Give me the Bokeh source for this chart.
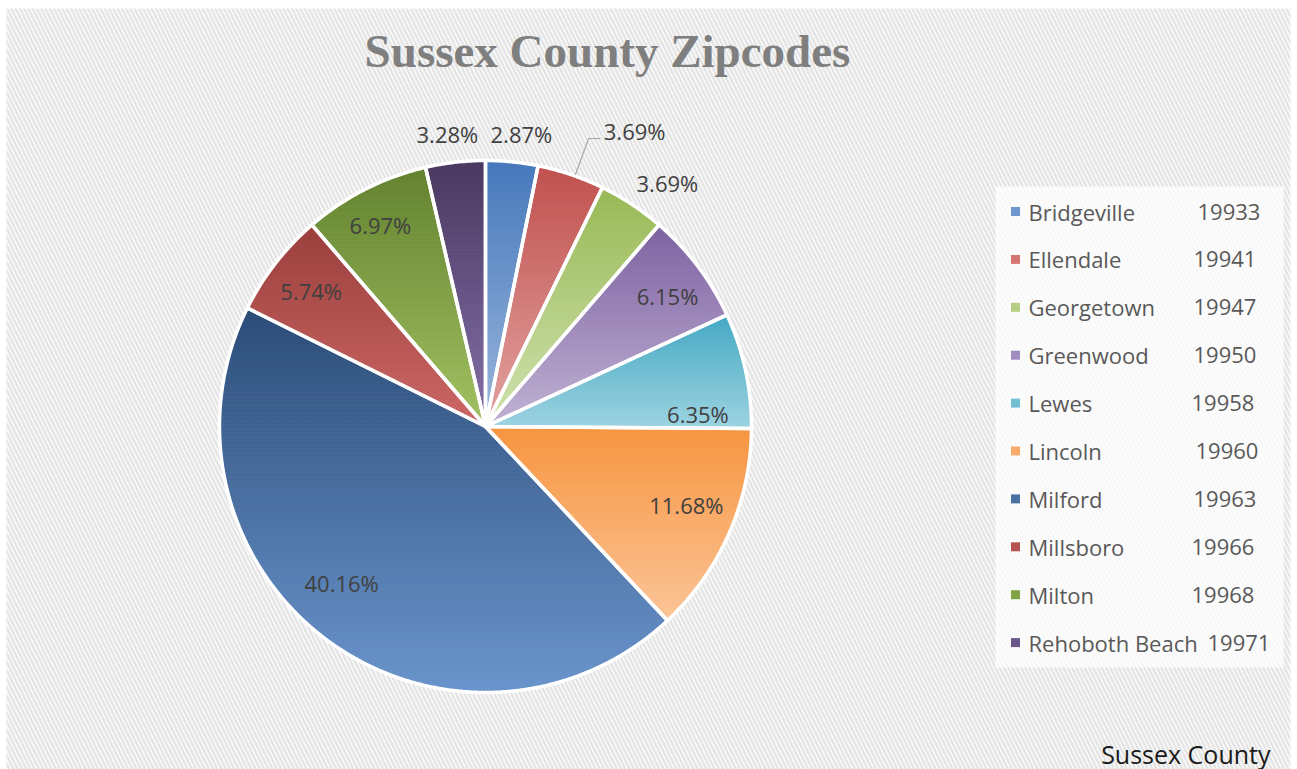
import numpy as np
from bokeh.plotting import figure
from bokeh.models import Range1d
from bokeh.core.properties import value
from bokeh.embed import file_html
from bokeh.resources import INLINE

# ---------------- data ----------------
towns = ["Bridgeville", "Ellendale", "Georgetown", "Greenwood", "Lewes",
         "Lincoln", "Milford", "Millsboro", "Milton", "Rehoboth Beach"]
zipcodes = ["19933", "19941", "19947", "19950", "19958",
            "19960", "19963", "19966", "19968", "19971"]
shares = [2.87, 3.69, 3.69, 6.15, 6.35, 11.68, 40.16, 5.74, 6.97, 3.28]
title_text = "Sussex County Zipcodes"
series_name = "Sussex County"

# ---------------- style ----------------
top_colors = ["#4678bb", "#c0504d", "#98b955", "#7e62a1", "#44a8c3",
              "#f79440", "#2c4c78", "#9b3f3c", "#62822f", "#4a3860"]
bottom_colors = ["#9bb7dd", "#e3a4a2", "#d0e2b0", "#c0b2d4", "#9dd3e1",
                 "#fbc597", "#6a95cc", "#cc6866", "#a3c263", "#8571a9"]
legend_colors = ["#6e97cf", "#d57673", "#b5cf82", "#a08cbf", "#72bfd3",
                 "#f9ab6a", "#4a6fa3", "#b65350", "#82a246", "#6a5688"]
label_rf = [1.106, 1.246, 1.144, 0.843, 0.80, 0.81, 0.80, 0.83, 0.856, 1.11]
label_dang = [1.3, 8.0, 3.3, 1.3, 8.7, -2.4, 5.9, 0.0, -0.6, -0.9]
zip_x = [1197, 1193, 1193, 1193, 1191, 1195, 1193, 1191, 1191, 1207]

W, H = 1292, 769
cx, cy, R = 485, 426, 266

p = figure(width=W, height=H, x_range=Range1d(0, W),
           y_range=Range1d(H, 0), output_backend="svg",
           toolbar_location=None, x_axis_type=None, y_axis_type=None,
           min_border=0)
p.outline_line_color = None
p.background_fill_color = "white"
p.border_fill_color = "white"

# hatched chart area
p.quad(left=[6], right=[1290], top=[8], bottom=[H],
       fill_color="white", line_color=None, hatch_pattern="\\",
       hatch_color="#dcdcdc", hatch_scale=8.5, hatch_weight=2.5,
       hatch_alpha=0.8)


def hex2rgb(h):
    h = h.lstrip("#")
    return np.array([int(h[i:i + 2], 16) for i in (0, 2, 4)], dtype=float)


def rgb2hex(c):
    return "#%02x%02x%02x" % tuple(int(round(v)) for v in c)


def clip_half(pts, keep, yc):
    out = []
    n = len(pts)
    for i in range(n):
        P = pts[i]
        Q = pts[(i + 1) % n]
        kp, kq = keep(P), keep(Q)
        if kp:
            out.append(P)
        if kp != kq:
            t = (yc - P[1]) / (Q[1] - P[1])
            out.append((P[0] + t * (Q[0] - P[0]), yc))
    return out


def clip_band(poly, y0, y1):
    pts = clip_half(poly, lambda P: P[1] >= y0, y0)
    if len(pts) >= 3:
        pts = clip_half(pts, lambda P: P[1] <= y1, y1)
    return pts


total = sum(shares)
fr = np.array(shares) / total * 2 * np.pi
ends = np.cumsum(fr)
starts = ends - fr

band_xs, band_ys, band_cols = [], [], []
wedge_xs, wedge_ys = [], []
for i in range(len(shares)):
    a = np.linspace(starts[i], ends[i], max(8, int(np.degrees(fr[i]) * 2)))
    poly = [(cx, cy)] + [(cx + R * np.sin(t), cy - R * np.cos(t)) for t in a]
    wedge_xs.append([q[0] for q in poly])
    wedge_ys.append([q[1] for q in poly])
    ys = [q[1] for q in poly]
    ymin, ymax = min(ys), max(ys)
    nb = max(10, int((ymax - ymin) / 4))
    edges = np.linspace(ymin, ymax, nb + 1)
    ct, cb = hex2rgb(top_colors[i]), hex2rgb(bottom_colors[i])
    for k in range(nb):
        pts = clip_band(poly, edges[k], edges[k + 1])
        if len(pts) < 3:
            continue
        f = (k + 0.5) / nb
        band_xs.append([q[0] for q in pts])
        band_ys.append([q[1] for q in pts])
        band_cols.append(rgb2hex(ct + (cb - ct) * f))

p.patches(band_xs, band_ys, fill_color=band_cols, line_color=band_cols,
          line_width=1)
p.patches(wedge_xs, wedge_ys, fill_color=None, line_color="white",
          line_width=3.5, line_join="round")

# data labels
mids = (starts + ends) / 2
lx, ly, lt = [], [], []
for i in range(len(shares)):
    ang = mids[i] + np.radians(label_dang[i])
    rr = R * label_rf[i]
    lx.append(cx + rr * np.sin(ang))
    ly.append(cy - rr * np.cos(ang))
    lt.append("%.2f%%" % shares[i])
p.text(lx, ly, text=lt, text_align="center", text_baseline="middle",
       text_font=value("Open Sans"), text_font_size="22px",
       text_color="#404040")

# leader line for Ellendale label
ea = mids[1] + np.radians(0.9)
p.line([cx + R * 1.005 * np.sin(ea), lx[1] - 46, lx[1] - 34],
       [cy - R * 1.005 * np.cos(ea), ly[1] + 8, ly[1] + 8],
       line_color="#a6a6a6", line_width=1.2)

# legend
p.quad(left=[995], right=[1283], top=[186], bottom=[667],
       fill_color="white", fill_alpha=0.75, line_color=None)
leg_y = [211 + 47.9 * i for i in range(len(towns))]
p.scatter([1015] * len(towns), leg_y, marker="square", size=9,
          fill_color=legend_colors, line_color=None)
p.text([1028] * len(towns), leg_y, text=towns, text_align="left",
       text_baseline="middle", text_font=value("Open Sans"),
       text_font_size="22px", text_color="#595959")
p.text(zip_x, leg_y, text=zipcodes, text_align="left",
       text_baseline="middle", text_font=value("Open Sans"),
       text_font_size="22px", text_color="#595959")

# title
p.text([607], [50], text=[title_text], text_align="center",
       text_baseline="middle", text_font=value("Liberation Serif"),
       text_font_style="bold", text_font_size="47px", text_color="#7f7f7f")

# series name bottom right
p.text([1270], [753], text=[series_name], text_align="right",
       text_baseline="middle", text_font=value("Open Sans"),
       text_font_size="25px", text_color="#1a1a1a")

open("out.html", "w").write(file_html(p, INLINE))
